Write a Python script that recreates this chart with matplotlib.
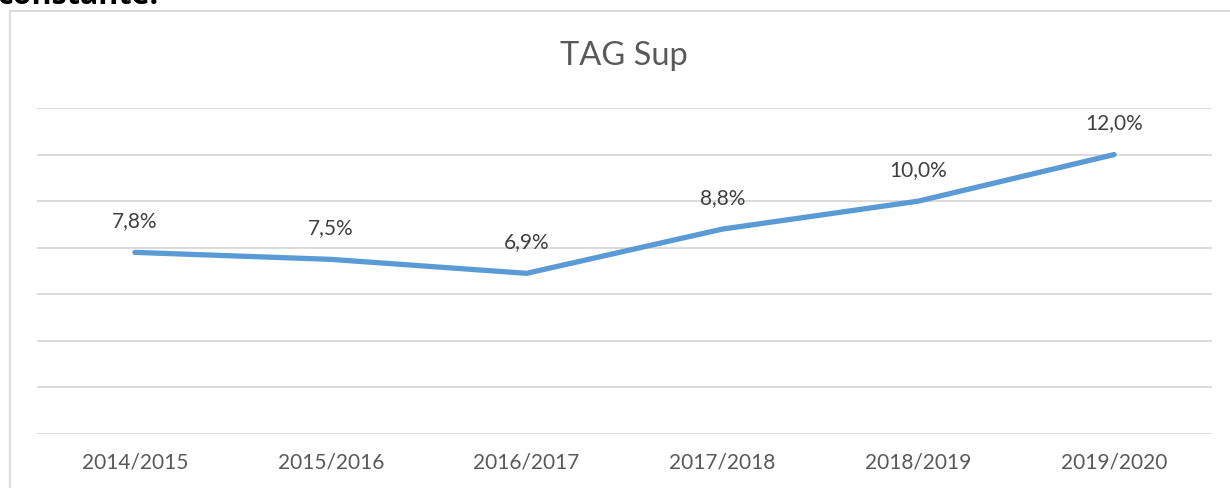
import matplotlib
matplotlib.use("Agg")
import matplotlib.pyplot as plt
from matplotlib.lines import Line2D

categories = ["2014/2015", "2015/2016", "2016/2017", "2017/2018", "2018/2019", "2019/2020"]
values = [7.8, 7.5, 6.9, 8.8, 10.0, 12.0]
labels = ["7,8%", "7,5%", "6,9%", "8,8%", "10,0%", "12,0%"]
title = "TAG Sup"
yticks = [0, 2, 4, 6, 8, 10, 12, 14]

W, H = 1230, 488
fig = plt.figure(figsize=(W / 100, H / 100), dpi=100)
font = ["Lato", "DejaVu Sans"]

ax = fig.add_axes([37 / W, (H - 434) / H, (1212 - 37) / W, (434 - 108) / H])
ax.set_xlim(-0.5, len(categories) - 0.5)
ax.set_ylim(0, 14)
for y in yticks:
    ax.axhline(y, color="#D9D9D9", lw=1.3, zorder=1)
x = list(range(len(categories)))
ax.plot(x, values, color="#5B9BD5", lw=3.8, solid_capstyle="round", zorder=3)
for xi, v, lab in zip(x, values, labels):
    ax.annotate(lab, (xi, v), xytext=(0, 22.5), textcoords="offset points",
                ha="center", va="center", fontsize=15, color="#404040", family=font)
ax.set_xticks(x)
ax.set_xticklabels(categories, fontsize=15, color="#595959", family=font)
ax.tick_params(axis="x", length=0, pad=13)
ax.set_yticks([])
for s in ax.spines.values():
    s.set_visible(False)

fig.text(624 / W, 1 - 56 / H, title, ha="center", va="center", fontsize=23.5,
         color="#595959", family=font)

# chart frame
fig.add_artist(Line2D([9.5 / W, 9.5 / W], [0, 1 - 10.5 / H], transform=fig.transFigure,
                      color="#D9D9D9", lw=1.3))
fig.add_artist(Line2D([9.5 / W, 1], [1 - 10.5 / H, 1 - 10.5 / H], transform=fig.transFigure,
                      color="#D9D9D9", lw=1.3))

# cropped text from surrounding document (cut off at the top edge, as in the reference)
fig.text(-2 / W, 1 - 3.5 / H, "constante.", ha="left", va="baseline", fontsize=22,
         fontweight="bold", color="black", family=["Open Sans", "DejaVu Sans"])

fig.savefig("out.png", dpi=100, facecolor="white")
